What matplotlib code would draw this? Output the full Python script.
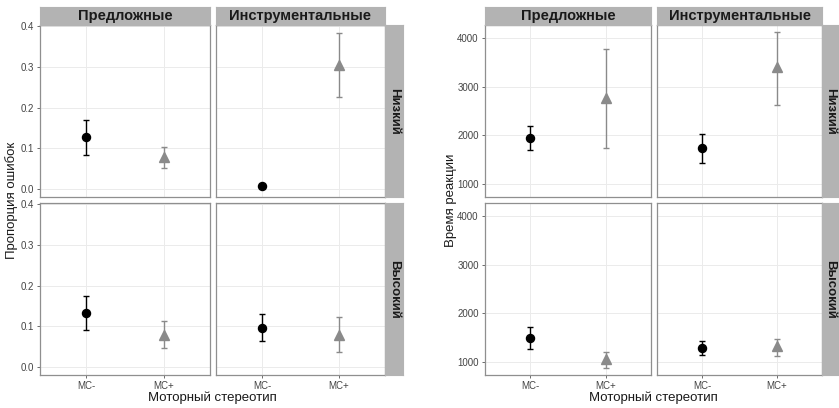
import matplotlib
matplotlib.use("Agg")
import matplotlib.pyplot as plt

plt.rcParams["font.family"] = ["Liberation Sans", "DejaVu Sans"]

# ── Data ──────────────────────────────────────────────────────────────────────
stereotypes = ["MC-", "MC+"]
prep_types  = ["Предложные", "Инструментальные"]
levels      = ["Низкий", "Высокий"]

# proportion of errors: [level][prep][stereotype]
err_mean  = [[[0.127, 0.078], [0.009, 0.305]],
             [[0.132, 0.080], [0.097, 0.080]]]
err_lower = [[[0.085, 0.053], [0.004, 0.225]],
             [[0.090, 0.047], [0.065, 0.037]]]
err_upper = [[[0.170, 0.104], [0.014, 0.383]],
             [[0.174, 0.112], [0.130, 0.123]]]

# reaction time: [level][prep][stereotype]
rt_mean  = [[[1936, 2776], [1736, 3395]],
            [[1493, 1062], [1288, 1336]]]
rt_lower = [[[1695, 1743], [1440, 2624]],
            [[1274, 870], [1137, 1130]]]
rt_upper = [[[2191, 3774], [2019, 4118]],
            [[1712, 1205], [1425, 1479]]]

err_ticks = [0.0, 0.1, 0.2, 0.3, 0.4]
rt_ticks  = [1000, 2000, 3000, 4000]

# ── Layout helpers ────────────────────────────────────────────────────────────
W, H = 839, 408
fig = plt.figure(figsize=(W / 100, H / 100), dpi=100, facecolor="white")

BORDER = "#8f8f8f"
STRIP  = "#b3b3b3"
GRID   = "#ebebeb"


def px_axes(x0, y0, x1, y1):
    return fig.add_axes([x0 / W, 1 - y1 / H, (x1 - x0) / W, (y1 - y0) / H])


def strip(x0, y0, x1, y1, label, rot, size):
    ax = px_axes(x0, y0, x1, y1)
    ax.set_facecolor(STRIP)
    ax.set_xticks([]); ax.set_yticks([])
    for sp in ax.spines.values():
        sp.set_edgecolor(STRIP)
    ax.text(0.5, 0.5, label, transform=ax.transAxes, ha="center", va="center",
            rotation=rot, fontsize=size, fontweight="bold", color="#1a1a1a")


def draw_block(xcols, strip_x, rows_y, mean, lower, upper, ylim, yticks,
               yfmt, ylabel, ylabel_x):
    for r, (ry0, ry1) in enumerate(rows_y):
        for c, (cx0, cx1) in enumerate(xcols):
            ax = px_axes(cx0, ry0, cx1, ry1)
            ax.set_facecolor("white")
            ax.set_xlim(0.4, 2.6)
            ax.set_ylim(*ylim)
            ax.set_xticks([1, 2])
            ax.set_yticks(yticks)
            ax.grid(True, color=GRID, lw=0.7)
            ax.set_axisbelow(True)
            for sp in ax.spines.values():
                sp.set_edgecolor(BORDER); sp.set_linewidth(0.9)
            ax.tick_params(length=2.5, width=0.6, color="#555555",
                           labelsize=7, labelcolor="#444444", pad=2)
            if r == len(rows_y) - 1:
                ax.set_xticklabels(stereotypes)
            else:
                ax.tick_params(axis="x", length=0, labelbottom=False)
            if c == 0:
                ax.set_yticklabels([yfmt(v) for v in yticks])
            else:
                ax.tick_params(axis="y", length=0, labelleft=False)

            styles = [dict(marker="o", color="black", ms=5.8),
                      dict(marker="^", color="#8a8a8a", ms=7.0)]
            for k, st in enumerate(styles):
                m = mean[r][c][k]
                lo, hi = lower[r][c][k], upper[r][c][k]
                ax.errorbar([k + 1], [m], yerr=[[m - lo], [hi - m]],
                            fmt=st["marker"], color=st["color"], ms=st["ms"],
                            ecolor=st["color"], elinewidth=1.0, capsize=2,
                            capthick=1.0, zorder=3)
            if r == 0:
                strip(cx0, 7, cx1, ry0, prep_types[c], 0, 10.5)
        strip(strip_x[0], ry0, strip_x[1], ry1, levels[r], -90, 9.5)

    mid = (xcols[0][0] + xcols[-1][1]) / 2
    fig.text(mid / W, 1 - 398 / H, "Моторный стереотип", ha="center",
             va="center", fontsize=9.5, color="#1a1a1a")
    ymid = (rows_y[0][0] + rows_y[-1][1]) / 2
    fig.text(ylabel_x / W, 1 - ymid / H, ylabel, ha="center", va="center",
             rotation=90, fontsize=9.5, color="#1a1a1a")


rows = [(25, 197), (203, 375)]

draw_block([(40, 210), (216, 385)], (385, 403), rows,
           err_mean, err_lower, err_upper, (-0.019, 0.402), err_ticks,
           lambda v: f"{v:.1f}", "Пропорция ошибок", 12)

draw_block([(485, 651), (657, 822)], (822, 839), rows,
           rt_mean, rt_lower, rt_upper, (733, 4267), rt_ticks,
           lambda v: f"{v:d}", "Время реакции", 451)

fig.savefig("out.png", dpi=100, facecolor="white")
